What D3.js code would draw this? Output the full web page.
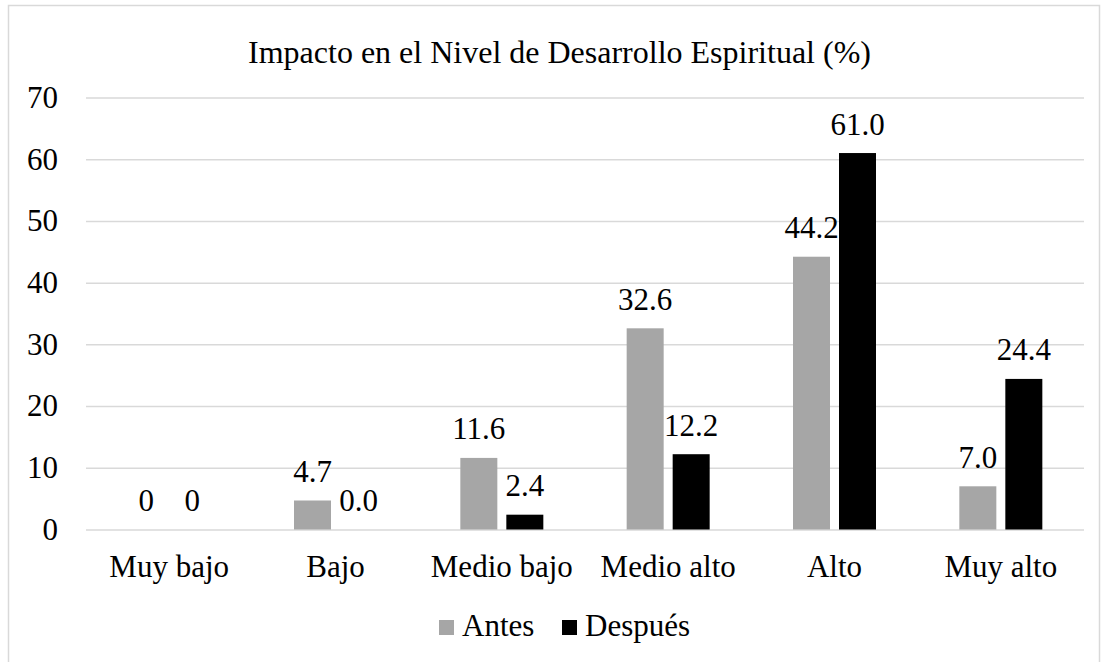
<!DOCTYPE html>
<html><head><meta charset="utf-8">
<script src="https://cdn.jsdelivr.net/npm/d3@7"></script>
<style>
body{margin:0;background:#fff}
svg{display:block}
text{font-family:"Liberation Serif","Times New Roman",serif;fill:#000}
</style>
</head><body>
<svg id="c" width="1104" height="662"></svg>
<script>
const title = "Impacto en el Nivel de Desarrollo Espiritual (%)";
const categories = ["Muy bajo", "Bajo", "Medio bajo", "Medio alto", "Alto", "Muy alto"];
const seriesNames = ["Antes", "Después"];
const antes = [0, 4.7, 11.6, 32.6, 44.2, 7.0];
const despues = [0, 0.0, 2.4, 12.2, 61.0, 24.4];
const antesLabels = ["0", "4.7", "11.6", "32.6", "44.2", "7.0"];
const despuesLabels = ["0", "0.0", "2.4", "12.2", "61.0", "24.4"];
const yTicks = [0, 10, 20, 30, 40, 50, 60, 70];
const colors = ["#a6a6a6", "#000000"];

const svg = d3.select("#c");
const plotLeft = 86, plotRight = 1084, plotTop = 97.5, plotBottom = 529.5;

svg.append("rect").attr("x", 8.5).attr("y", 5.5).attr("width", 1091).attr("height", 720)
  .attr("fill", "#fff").attr("stroke", "#d9d9d9").attr("stroke-width", 1.5);

const x = d3.scaleBand().domain(categories).range([plotLeft, plotRight]);
const y = d3.scaleLinear().domain([0, 70]).range([plotBottom, plotTop]);
const xs = d3.scaleBand().domain(seriesNames).paddingInner(9 / 46);

// title
svg.append("text").attr("x", 559.5).attr("y", 63).attr("text-anchor", "middle")
  .style("font-size", "32px").text(title);

// y axis with gridlines
const yAxis = d3.axisLeft(y).tickValues(yTicks).tickSize(-(plotRight - plotLeft)).tickPadding(28);
const gy = svg.append("g").attr("transform", `translate(${plotLeft},0)`).call(yAxis);
gy.select(".domain").remove();
gy.selectAll(".tick line").attr("stroke", "#d9d9d9").attr("stroke-width", 1.5);
gy.selectAll(".tick text").style("font-size", "31px").attr("fill", "#000")
  .style("font-family", '"Liberation Serif","Times New Roman",serif');

// x labels
const xAxis = d3.axisBottom(x).tickSize(0).tickPadding(0);
const gx = svg.append("g").attr("transform", `translate(0,${plotBottom})`).call(xAxis);
gx.select(".domain").remove();
gx.selectAll(".tick text").attr("dy", null).attr("y", 47.5).style("font-size", "31px").attr("fill", "#000")
  .style("font-family", '"Liberation Serif","Times New Roman",serif');

const series = [
  {name: seriesNames[0], values: antes, labels: antesLabels, color: colors[0]},
  {name: seriesNames[1], values: despues, labels: despuesLabels, color: colors[1]}
];

categories.forEach((c, i) => {
  const cx = x(c) + x.bandwidth() / 2;
  xs.range([cx - 41.5, cx + 41.5]);
  series.forEach(s => {
    const bx = xs(s.name);
    const v = s.values[i];
    svg.append("rect").attr("x", bx).attr("y", y(v)).attr("width", xs.bandwidth())
      .attr("height", y(0) - y(v)).attr("fill", s.color);
    svg.append("text").attr("x", bx + xs.bandwidth() / 2).attr("y", y(v) - 18.5)
      .attr("text-anchor", "middle").style("font-size", "31px").text(s.labels[i]);
  });
});

// legend
const legendX = [439, 562];
const lg = svg.append("g");
series.forEach((s, k) => {
  lg.append("rect").attr("x", legendX[k]).attr("y", 620).attr("width", 15).attr("height", 15).attr("fill", s.color);
  lg.append("text").attr("x", legendX[k] + 23).attr("y", 636).style("font-size", "31px").text(s.name);
});
</script>
</body></html>
